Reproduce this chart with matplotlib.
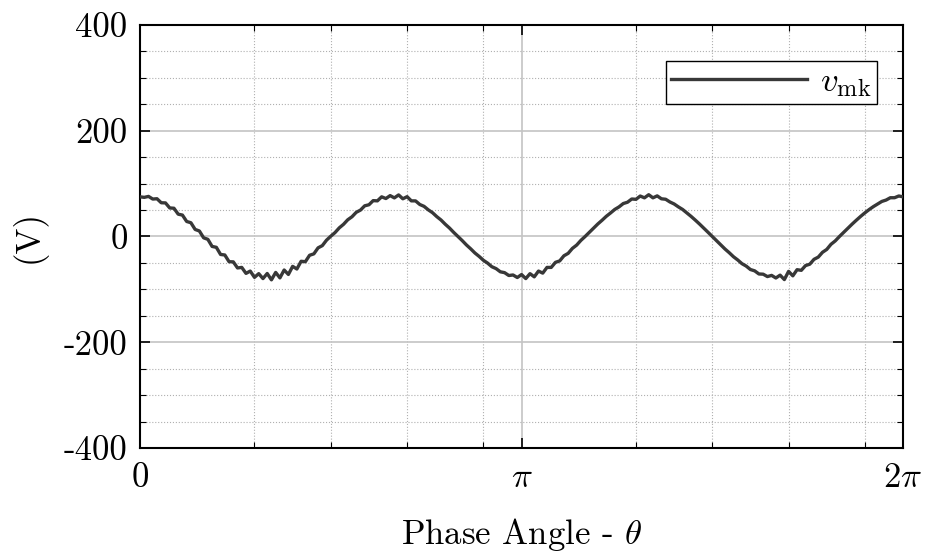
import numpy as np
import matplotlib
matplotlib.use("Agg")
import matplotlib.pyplot as plt
from matplotlib.ticker import FixedLocator

plt.rcParams['font.family'] = ['cmr10', 'DejaVu Serif']
plt.rcParams['mathtext.fontset'] = 'cm'
plt.rcParams['axes.unicode_minus'] = False

# sample angle in degrees (every 2 deg over one turn)
theta_deg = np.arange(0, 361, 2)

# v_mk (V)
v_mk = [
    75, 74, 75.8, 70.8, 71.4, 63.8, 63.5, 54, 53.4, 42.2, 40.5, 28.4, 26, 13.3, 10.4,
    -2.5, -5.4, -18.8, -20.5, -34, -35, -47.7, -48, -59.5, -58.5, -69.8, -65.4, -77.3, -70.3, -79.6,
    -70, -82, -68, -78.3, -63.4, -71.8, -56.5, -61.5, -46.9, -47.7, -35.5, -32.9, -21.5, -17.3, -6.9,
    0.5, 7.4, 16.3, 23, 31.6, 37.3, 45.7, 49.9, 58, 60, 67.8, 67.4, 75, 71.8, 77.3,
    73, 78.6, 71.3, 75.3, 67.4, 67.3, 60.5, 57, 50.4, 45, 37.6, 31.2, 23.2, 16, 7.7,
    0, -7.7, -16, -23.3, -31.2, -37.7, -45, -50.4, -57.2, -60.8, -66.8, -68.4, -73.8, -72.8, -77.6,
    -72, -79.6, -70.3, -76.3, -65.4, -69.3, -58.5, -58.5, -48.9, -46.2, -36.5, -31.9, -22.5, -16.3, -7.4,
    0, 7.9, 15.6, 23.7, 30.7, 38.2, 44.5, 51.2, 56, 62.3, 64.8, 70.9, 70.3, 76.5, 73.1,
    79, 73.1, 76.8, 71.3, 70.4, 65.3, 61.5, 56, 51.1, 44.5, 38, 30.9, 23.5, 15.8, 7.9,
    0, -7.9, -15.6, -23.7, -30.7, -38.3, -44.4, -51.4, -56, -62.5, -65, -70.9, -71.3, -75.8, -73.6,
    -78.5, -73.1, -81.5, -66, -74.4, -62.8, -64, -55, -52.4, -43.2, -39, -29.9, -24.5, -14.8, -8.4,
    0, 7.9, 15.8, 23.5, 30.9, 38, 44.7, 50.9, 56.5, 61.5, 66.3, 68.9, 73.3, 73.3, 76.6,
    75,
]

x_ticks = [0, np.pi, 2 * np.pi]
x_tick_labels = ['0', r'$\pi$', r'$2\pi$']
x_minor = [0.3 * np.pi, 0.5 * np.pi, 0.7 * np.pi, 0.9 * np.pi,
           1.3 * np.pi, 1.5 * np.pi, 1.7 * np.pi, 1.9 * np.pi]
y_ticks = [-400, -200, 0, 200, 400]
y_tick_labels = ['-400', '-200', '0', '200', '400']

FS = 25

fig = plt.figure(figsize=(9.28, 5.59), dpi=100)
ax = fig.add_axes([0.1509, 0.1986, 0.8222, 0.7567])

theta = np.deg2rad(theta_deg)
ax.plot(theta, v_mk, color='#383838', lw=2.4, label=r'$v_{\mathrm{mk}}$', zorder=3)

ax.set_xlim(0, 2 * np.pi)
ax.set_ylim(-400, 400)
ax.set_xticks(x_ticks)
ax.set_xticklabels(x_tick_labels)
ax.xaxis.set_minor_locator(FixedLocator(x_minor))
ax.set_yticks(y_ticks)
ax.set_yticklabels(y_tick_labels)
ax.yaxis.set_minor_locator(FixedLocator(np.arange(-350, 400, 50)))

ax.grid(which='major', color='#c4c4c4', lw=1.2, ls='-')
ax.grid(which='minor', color='#b0b0b0', lw=0.8, ls=':')
ax.set_axisbelow(True)

ax.tick_params(which='both', direction='in', top=True, right=True,
               labelsize=FS, colors='black')
ax.tick_params(axis='y', pad=9)
ax.tick_params(axis='x', pad=10)
ax.tick_params(which='major', length=7, width=1.2)
ax.tick_params(which='minor', length=4, width=0.8)
for s in ax.spines.values():
    s.set_linewidth(1.5)
    s.set_color('black')

ax.set_xlabel(r'Phase Angle - $\theta$', fontsize=FS, labelpad=16)
ax.set_ylabel('(V)', fontsize=FS, labelpad=12)

leg = ax.legend(loc='upper right', bbox_to_anchor=(0.966, 0.914),
                borderaxespad=0, fontsize=FS, handlelength=3.9,
                handletextpad=0.4, borderpad=0.15,
                fancybox=False, framealpha=1, edgecolor='black')
leg.get_frame().set_linewidth(1.0)

fig.savefig('out.png', dpi=100)
